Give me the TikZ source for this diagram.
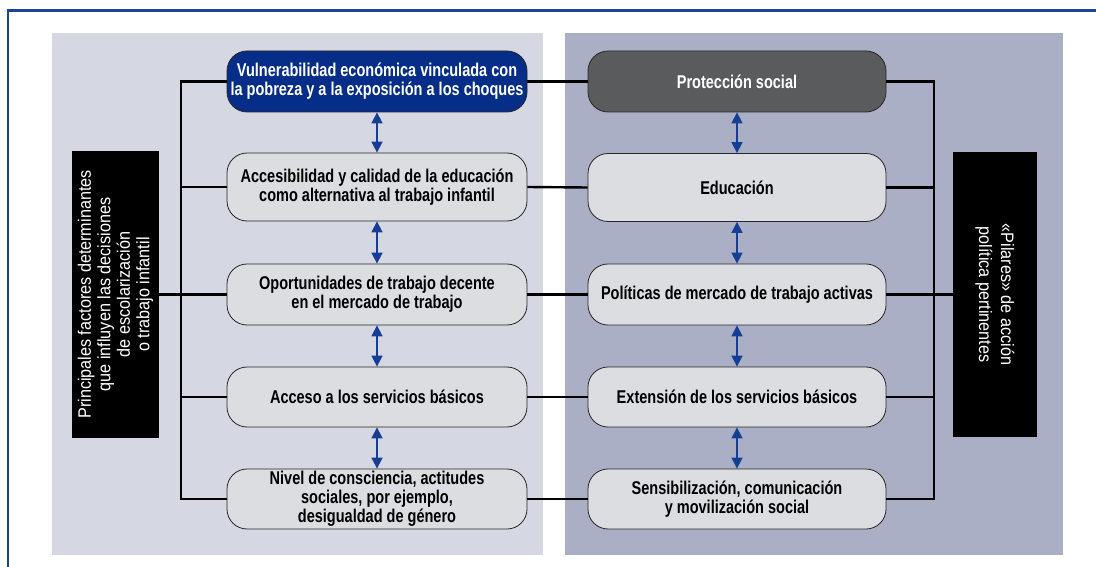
\documentclass[tikz,border=0pt]{standalone}
\usepackage{fontspec}
\usetikzlibrary{arrows.meta}
\newfontfamily\boxfont[FakeStretch=0.785]{Liberation Sans}
\newfontfamily\sidefont[FakeStretch=0.90]{Liberation Sans}
\definecolor{frameblue}{RGB}{26,66,150}
\definecolor{leftpanel}{RGB}{213,216,226}
\definecolor{rightpanel}{RGB}{171,175,197}
\definecolor{boxgray}{RGB}{220,221,224}
\definecolor{topblue}{RGB}{6,46,136}
\definecolor{topgray}{RGB}{90,91,93}
\definecolor{arrowblue}{RGB}{22,62,148}
\begin{document}
\begin{tikzpicture}[x=1pt,y=-1pt,
  fbox/.style={draw=black!85, line width=0.8pt, rounded corners=20pt, fill=boxgray,
    align=center, inner sep=0pt, text=black,
    font=\boxfont\bfseries\fontsize{18.5}{19}\selectfont},
  lbox/.style={fbox, minimum width=300pt},
  rbox/.style={fbox, minimum width=298pt},
  sidebox/.style={fill=black, text=white, align=center, inner sep=0pt,
    font=\sidefont\fontsize{18}{19.5}\selectfont},
  conn/.style={draw=black, line width=2.4pt},
  arr/.style={draw=arrowblue, line width=1.6pt,
    {Triangle[length=11pt,width=11pt]}-{Triangle[length=11pt,width=11pt]}}]
\useasboundingbox (0,0) rectangle (1096,567);
% panels
\fill[leftpanel] (52,33) rectangle (543,555);
\fill[rightpanel] (565,33) rectangle (1063,555);
% frame
\draw[frameblue, line width=2.6pt] (8,600) -- (8,10.5) -- (1110,10.5);

% left boxes
\node[lbox, minimum height=61pt, fill=topblue, text=white] (L1) at (377,81.5)
  {Vulnerabilidad económica vinculada con\\la pobreza y a la exposición a los choques};
\node[lbox, minimum height=68pt] (L2) at (377,187)
  {Accesibilidad y calidad de la educación\\como alternativa al trabajo infantil};
\node[lbox, minimum height=61pt] (L3) at (377,294.5)
  {Oportunidades de trabajo decente\\en el mercado de trabajo};
\node[lbox, minimum height=60pt] (L4) at (377,397)
  {Acceso a los servicios básicos};
\node[lbox, minimum height=60pt] (L5) at (377,499)
  {Nivel de consciencia, actitudes\\sociales, por ejemplo,\\desigualdad de género};

% right boxes
\node[rbox, minimum height=61pt, fill=topgray, text=white] (R1) at (737,81.5)
  {Protección social};
\node[rbox, minimum height=68pt] (R2) at (737,187.5)
  {Educación};
\node[rbox, minimum height=61pt] (R3) at (737,294.5)
  {Políticas de mercado de trabajo activas};
\node[rbox, minimum height=60pt] (R4) at (737,397)
  {Extensión de los servicios básicos};
\node[rbox, minimum height=60pt] (R5) at (737,499)
  {Sensibilización, comunicación\\y movilización social};

% side boxes
\node[sidebox, rotate=90, minimum width=287pt, minimum height=87pt] (Bl) at (115.5,294.5)
  {Principales factores determinantes\\que influyen las decisiones\\de escolarización\\o trabajo infantil};
\node[sidebox, rotate=-90, minimum width=285pt, minimum height=84pt, font=\sidefont\fontsize{18}{22}\selectfont] (Br) at (995,294.5)
  {«Pilares» de acción\\política pertinentes};

% bracket coordinates
\coordinate (lx) at (181,0);
\coordinate (rx) at (934,0);

% left bracket
\draw[conn] (L1.west) -- (L1.west -| lx) -- (L5.west -| lx) -- (L5.west);
\draw[conn] (L2.west) -- (L2.west -| lx);
\draw[conn] (L3.west) -- (L3.west -| lx);
\draw[conn] (L4.west) -- (L4.west -| lx);
\draw[conn] (Bl.south) -- (Bl.south -| lx);

% right bracket
\draw[conn] (R1.east) -- (R1.east -| rx) -- (R5.east -| rx) -- (R5.east);
\draw[conn] (R2.east) -- (R2.east -| rx);
\draw[conn] (R3.east) -- (R3.east -| rx);
\draw[conn] (R4.east) -- (R4.east -| rx);
\draw[conn] (Br.south) -- (Br.south -| rx);

% row links
\draw[conn] (L1.east) -- (R1.west);
\draw[conn] (L2.east) -- (R2.west);
\draw[conn] (L3.east) -- (R3.west);
\draw[conn] (L4.east) -- (R4.west);
\draw[conn] (L5.east) -- (R5.west);

% arrows
\draw[arr] (L1.south) -- (L2.north);
\draw[arr] (L2.south) -- (L3.north);
\draw[arr] (L3.south) -- (L4.north);
\draw[arr] (L4.south) -- (L5.north);
\draw[arr] (R1.south) -- (R2.north);
\draw[arr] (R2.south) -- (R3.north);
\draw[arr] (R3.south) -- (R4.north);
\draw[arr] (R4.south) -- (R5.north);
\end{tikzpicture}
\end{document}
